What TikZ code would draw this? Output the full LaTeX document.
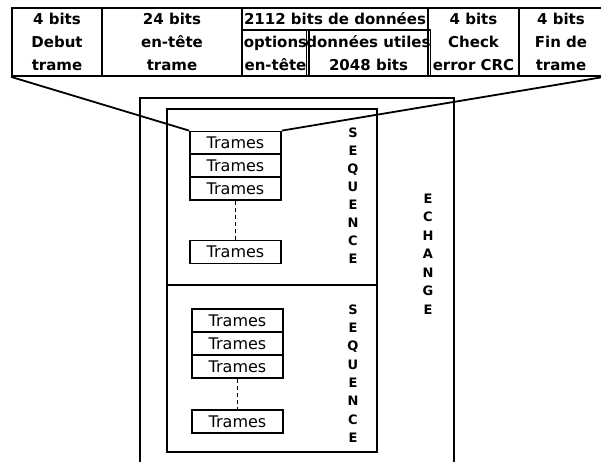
\documentclass[tikz,border=0pt]{standalone}
\usepackage{fontspec}
\setmainfont{DejaVu Sans}
\begin{document}
\begin{tikzpicture}[x=1pt,y=-1pt,
  box/.style={draw,line width=1.8pt,inner sep=0pt},
  cell/.style={box,align=center,font=\fontsize{15}{23}\selectfont\bfseries},
  framebox/.style={box,minimum width=91pt,minimum height=23pt,font=\fontsize{16}{18}\selectfont},
  letters/.style={align=center,inner sep=0pt},
  link/.style={line width=1.8pt},
  gap/.style={line width=1pt,dash pattern=on 4pt off 3pt}]
\useasboundingbox (0,0) rectangle (601,462);
\clip (0,0) rectangle (601,462);

% frame format table
\node[cell,minimum width=90pt,minimum height=68pt] (c1) at (57,42) {4 bits\\Debut\\trame};
\node[cell,minimum width=140pt,minimum height=68pt] (c2) at (172,42) {24 bits\\en-tête\\trame};
\node[cell,minimum width=186pt,minimum height=22pt] (c3) at (335,19) {2112 bits de données};
\node[cell,minimum width=67pt,minimum height=46pt] (c3a) at (275.5,53) {options\\en-tête};
\node[cell,minimum width=119pt,minimum height=46pt] (c3b) at (368.5,53) {données utiles\\2048 bits};
\node[cell,minimum width=91pt,minimum height=68pt] (c4) at (473.5,42) {4 bits\\Check\\error CRC};
\node[cell,minimum width=84pt,minimum height=68pt] (c5) at (561,42) {4 bits\\Fin de\\trame};

% exchange and sequences
\node[box,minimum width=314pt,minimum height=390pt] (ech) at (297,293) {};
\node[box,minimum width=210pt,minimum height=176pt] (seqA) at (272,197) {};
\node[box,minimum width=210pt,minimum height=167pt] (seqB) at (272,368.5) {};

% frames of the first sequence
\node[framebox] (a1) at (235.5,143) {Trames};
\node[framebox] (a2) at (235.5,165.5) {Trames};
\node[framebox] (a3) at (235.5,188.5) {Trames};
\node[framebox] (a4) at (235.5,252) {Trames};
\draw[gap] (a3.south) -- (a4.north);

% frames of the second sequence
\node[framebox] (b1) at (237.5,320.5) {Trames};
\node[framebox] (b2) at (237.5,343.5) {Trames};
\node[framebox] (b3) at (237.5,366.5) {Trames};
\node[framebox] (b4) at (237.5,421.5) {Trames};
\draw[gap] (b3.south) -- (b4.north);

% vertical labels
\node[letters,font=\fontsize{13}{18}\selectfont\bfseries] (lseqA) at (353,195.5) {S\\E\\Q\\U\\E\\N\\C\\E};
\node[letters,font=\fontsize{13}{18.3}\selectfont\bfseries] (lseqB) at (353,373.5) {S\\E\\Q\\U\\E\\N\\C\\E};
\node[letters,font=\fontsize{13}{18.5}\selectfont\bfseries] (lech) at (428,254) {E\\C\\H\\A\\N\\G\\E};

% zoom lines from the first frame to the table
\draw[link] (c1.south west) -- (a1.north west);
\draw[link] (a1.north east) -- (c5.south east);
\end{tikzpicture}
\end{document}
